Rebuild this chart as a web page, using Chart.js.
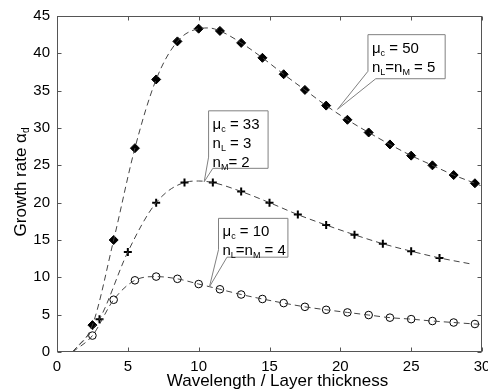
<!DOCTYPE html>
<html>
<head>
<meta charset="utf-8">
<script src="https://cdn.jsdelivr.net/npm/chart.js@4.4.1/dist/chart.umd.min.js"></script>
<style>
html,body{margin:0;padding:0;background:#fff;}
canvas{display:block;}
</style>
</head>
<body>
<canvas id="c" width="488" height="389"></canvas>
<script>
// ---- data ----
const xDiamond = [2.5, 4, 5.5, 7, 8.5, 10, 11.5, 13, 14.5, 16, 17.5, 19, 20.5, 22, 23.5, 25, 26.5, 28, 29.5];
const yDiamond = [3.6, 15.0, 27.3, 36.5, 41.6, 43.3, 43.0, 41.4, 39.4, 37.2, 35.1, 33.0, 31.1, 29.4, 27.8, 26.3, 25.0, 23.7, 22.6];

const xCross = [3, 5, 7, 9, 11, 13, 15, 17, 19, 21, 23, 25, 27];
const yCross = [4.4, 13.4, 20.0, 22.7, 22.7, 21.5, 20.0, 18.4, 17.0, 15.7, 14.5, 13.5, 12.6];

const xCircle = [2.5, 4, 5.5, 7, 8.5, 10, 11.5, 13, 14.5, 16, 17.5, 19, 20.5, 22, 23.5, 25, 26.5, 28, 29.5];
const yCircle = [2.2, 7.0, 9.6, 10.1, 9.8, 9.1, 8.4, 7.7, 7.1, 6.55, 6.05, 5.65, 5.3, 4.95, 4.6, 4.4, 4.15, 3.95, 3.75];

// dashed fit curves
const fit50X = [1.1, 2.5, 4, 5.5, 7, 8.5, 10, 10.7, 11.5, 13, 14.5, 16, 17.5, 19, 20.5, 22, 23.5, 25, 26.5, 28, 29.5, 29.9];
const fit50Y = [0, 3.6, 15.0, 27.3, 36.5, 41.6, 43.3, 43.4, 43.0, 41.4, 39.4, 37.2, 35.1, 33.0, 31.1, 29.4, 27.8, 26.3, 25.0, 23.7, 22.6, 22.3];
const fit33X = [1.1, 3, 5, 7, 9, 10, 11, 13, 15, 17, 19, 21, 23, 25, 27, 29.2];
const fit33Y = [0, 4.4, 13.4, 20.0, 22.7, 22.9, 22.7, 21.5, 20.0, 18.4, 17.0, 15.7, 14.5, 13.5, 12.6, 11.8];
const fit10X = [1.1, 2.5, 4, 5.5, 7, 8.5, 10, 11.5, 13, 14.5, 16, 17.5, 19, 20.5, 22, 23.5, 25, 26.5, 28, 29.5, 29.9];
const fit10Y = [0, 2.2, 7.0, 9.6, 10.1, 9.8, 9.1, 8.4, 7.7, 7.1, 6.55, 6.05, 5.65, 5.3, 4.95, 4.6, 4.4, 4.15, 3.95, 3.75, 3.7];

const xTicks = [0, 5, 10, 15, 20, 25, 30];
const yTicks = [0, 5, 10, 15, 20, 25, 30, 35, 40, 45];

const xTitle = 'Wavelength / Layer thickness';
const yTitle = [['Growth rate α', false], ['d', true]];

// callout annotations (text)
const note50 = [[['μ', false], ['c', true], [' = 50', false]],
                [['n', false], ['L', true], ['=n', false], ['M', true], [' = 5', false]]];
const note33 = [[['μ', false], ['c', true], [' = 33', false]],
                [['n', false], ['L', true], [' = 3', false]],
                [['n', false], ['M', true], ['= 2', false]]];
const note10 = [[['μ', false], ['c', true], [' = 10', false]],
                [['n', false], ['L', true], ['=n', false], ['M', true], [' = 4', false]]];

const pts = (xs, ys) => xs.map((x, i) => ({x: x, y: ys[i]}));

const FONT = "'Liberation Sans', Arial, Helvetica, sans-serif";

// callout geometry (data units)
const callouts = [
  {lines: note50, x1: 21.95, x2: 27.4, y1: 42.5, y2: 36.6, tipX: 19.8, tipY: 32.5, attY: 37.6, attX: 22.5},
  {lines: note33, x1: 10.7, x2: 14.9, y1: 32.3, y2: 24.6, tipX: 10.39, tipY: 22.8, attY: 26.1, attX: 11.0},
  {lines: note10, x1: 11.4, x2: 16.3, y1: 17.9, y2: 12.7, tipX: 10.76, tipY: 8.73, attY: 13.7, attX: 12.0}
];

function drawRich(ctx, parts, x, y, size, subSize) {
  let cx = x;
  for (const [t, sub] of parts) {
    ctx.font = (sub ? subSize : size) + 'px ' + FONT;
    ctx.fillText(t, cx, sub ? y + 3 : y);
    cx += ctx.measureText(t).width;
  }
  return cx;
}

const decor = {
  id: 'decor',
  afterDatasetsDraw(chart) {
    const ctx = chart.ctx;
    const xs = chart.scales.x, ys = chart.scales.y;
    ctx.save();
    for (const c of callouts) {
      const L = xs.getPixelForValue(c.x1), R = xs.getPixelForValue(c.x2);
      const T = ys.getPixelForValue(c.y1), B = ys.getPixelForValue(c.y2);
      const tx = xs.getPixelForValue(c.tipX), ty = ys.getPixelForValue(c.tipY);
      const ay = ys.getPixelForValue(c.attY), ax = xs.getPixelForValue(c.attX);
      ctx.beginPath();
      ctx.moveTo(L, T); ctx.lineTo(R, T); ctx.lineTo(R, B); ctx.lineTo(ax, B);
      ctx.lineTo(tx, ty); ctx.lineTo(L, ay); ctx.closePath();
      ctx.fillStyle = '#fff';
      ctx.fill();
      ctx.strokeStyle = '#808080';
      ctx.lineWidth = 1;
      ctx.stroke();
      ctx.fillStyle = '#000';
      ctx.textBaseline = 'alphabetic';
      ctx.textAlign = 'left';
      c.lines.forEach((ln, i) => drawRich(ctx, ln, L + 4, T + 18 + i * 19, 15, 9));
    }
    ctx.restore();
  },
  afterDraw(chart) {
    const ctx = chart.ctx;
    const a = chart.chartArea;
    const xs = chart.scales.x, ys = chart.scales.y;
    ctx.save();
    ctx.strokeStyle = '#555';
    ctx.lineWidth = 1;
    const l = Math.round(a.left) + 0.5, r = Math.round(a.right) - 0.5;
    const t = Math.round(a.top) + 0.5, b = Math.round(a.bottom) - 0.5;
    ctx.strokeRect(l, t, r - l, b - t);
    ctx.beginPath();
    for (const v of xTicks) {
      const p = Math.round(xs.getPixelForValue(v)) + 0.5;
      ctx.moveTo(p, b); ctx.lineTo(p, b - 4);
      ctx.moveTo(p, t); ctx.lineTo(p, t + 4);
    }
    for (const v of yTicks) {
      const p = Math.round(ys.getPixelForValue(v)) + 0.5;
      ctx.moveTo(l, p); ctx.lineTo(l + 4, p);
      ctx.moveTo(r, p); ctx.lineTo(r - 4, p);
    }
    ctx.stroke();
    // axis titles
    ctx.fillStyle = '#000';
    ctx.font = '17px ' + FONT;
    ctx.textAlign = 'center';
    ctx.textBaseline = 'alphabetic';
    ctx.fillText(xTitle, (a.left + a.right) / 2 + 8, 386);
    // y title rotated with subscript
    ctx.translate(26, (a.top + a.bottom) / 2 - 2);
    ctx.rotate(-Math.PI / 2);
    ctx.textAlign = 'left';
    let w = 0;
    for (const [t2, sub] of yTitle) {
      ctx.font = (sub ? 10 : 17) + 'px ' + FONT;
      w += ctx.measureText(t2).width;
    }
    drawRich(ctx, yTitle, -w / 2, 0, 17, 10);
    ctx.restore();
  }
};

new Chart(document.getElementById('c'), {
  type: 'scatter',
  data: {
    datasets: [
      {data: pts(fit50X, fit50Y), showLine: true, borderColor: '#444', borderWidth: 1, borderDash: [6, 4], pointRadius: 0, cubicInterpolationMode: 'monotone', fill: false},
      {data: pts(fit33X, fit33Y), showLine: true, borderColor: '#444', borderWidth: 1, borderDash: [6, 4], pointRadius: 0, cubicInterpolationMode: 'monotone', fill: false},
      {data: pts(fit10X, fit10Y), showLine: true, borderColor: '#444', borderWidth: 1, borderDash: [6, 4], pointRadius: 0, cubicInterpolationMode: 'monotone', fill: false},
      {data: pts(xDiamond, yDiamond), pointStyle: 'rectRot', pointRadius: 4.5, backgroundColor: '#000', borderColor: '#000', borderWidth: 1},
      {data: pts(xCross, yCross), pointStyle: 'cross', pointRadius: 4, borderColor: '#000', borderWidth: 2},
      {data: pts(xCircle, yCircle), pointStyle: 'circle', pointRadius: 3.8, backgroundColor: 'rgba(0,0,0,0)', borderColor: '#000', borderWidth: 1}
    ]
  },
  options: {
    responsive: false,
    animation: false,
    devicePixelRatio: 1,
    layout: {padding: {top: 16, right: 6, left: 0, bottom: 0}},
    plugins: {legend: {display: false}, tooltip: {enabled: false}},
    scales: {
      x: {
        type: 'linear', min: 0, max: 30,
        afterBuildTicks: s => { s.ticks = xTicks.map(v => ({value: v})); },
        afterFit: s => { s.height = 37; s.paddingLeft = 0; s.paddingRight = 0; },
        grid: {display: false, drawTicks: false},
        border: {display: false},
        ticks: {color: '#000', font: {family: FONT, size: 15}, padding: 6, maxRotation: 0}
      },
      y: {
        type: 'linear', min: 0, max: 45,
        afterBuildTicks: s => { s.ticks = yTicks.map(v => ({value: v})); },
        afterFit: s => { s.width = 57; s.paddingTop = 0; s.paddingBottom = 0; },
        grid: {display: false, drawTicks: false},
        border: {display: false},
        ticks: {color: '#000', font: {family: FONT, size: 15}, padding: 7}
      }
    }
  },
  plugins: [decor]
});
</script>
</body>
</html>
